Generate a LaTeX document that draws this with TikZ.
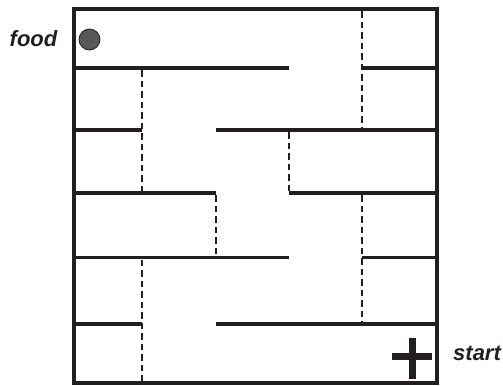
\documentclass[tikz,border=0pt]{standalone}
\usepackage{fontspec}
\setmainfont{Liberation Sans}
\definecolor{mazeink}{HTML}{231F20}
\definecolor{foodgray}{HTML}{58585A}
\begin{document}
\begin{tikzpicture}[x=1bp,y=-1bp,
  wall/.style={draw=mazeink,line width=3.2bp},
  door/.style={draw=mazeink,line width=1.5bp,dash pattern=on 6.5bp off 4bp},
  label/.style={inner sep=0pt,font=\fontsize{22bp}{26bp}\selectfont\bfseries\itshape,text=mazeink},
  plusbar/.style={draw=mazeink,line width=7bp}]
\useasboundingbox (0,0) rectangle (503,385);
% outer box
\draw[wall] (74,9) rectangle (437,383);
% horizontal walls
\draw[wall] (74,68) -- (289,68);
\draw[wall] (362,68) -- (437,68);
\draw[wall] (74,130) -- (142,130);
\draw[wall] (216,130) -- (437,130);
\draw[wall] (74,193) -- (216,193);
\draw[wall] (289,193) -- (437,193);
\draw[wall] (74,257.5) -- (289,257.5);
\draw[wall] (362,257.5) -- (437,257.5);
\draw[wall] (74,324) -- (142,324);
\draw[wall] (216,324) -- (437,324);
% dashed doors
\draw[door] (362,11) -- (362,128);
\draw[door] (362,195) -- (362,322);
\draw[door] (142,70) -- (142,191);
\draw[door] (142,259.5) -- (142,381);
\draw[door] (289,132) -- (289,191);
\draw[door] (216,195) -- (216,255.5);
% food
\node[circle,draw=mazeink,fill=foodgray,line width=0.8bp,minimum size=21bp,inner sep=0pt] (foodball) at (89.5,39.5) {};
\node[label,anchor=base west] (foodtext) at (9.5,46) {food};
% start
\draw[plusbar] (392,356) -- (432,356);
\draw[plusbar] (412,337.5) -- (412,378.5);
\node[label,anchor=base west] (starttext) at (453,360) {start};
\end{tikzpicture}
\end{document}
